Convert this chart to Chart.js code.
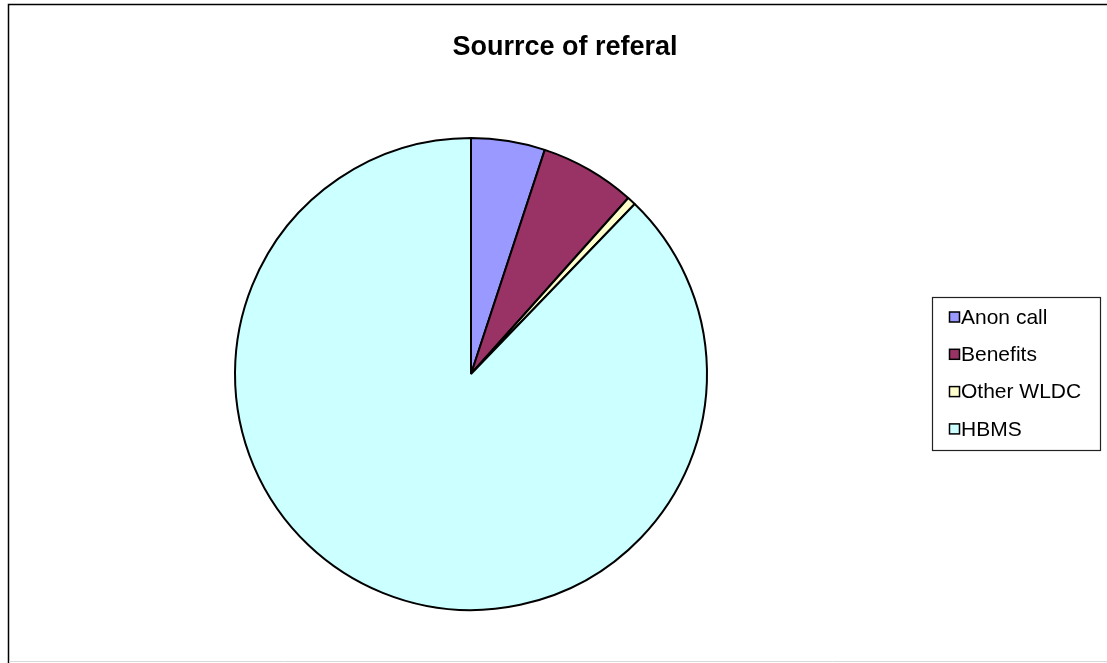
<!DOCTYPE html>
<html>
<head>
<meta charset="utf-8">
<script src="https://cdn.jsdelivr.net/npm/chart.js@4/dist/chart.umd.min.js"></script>
<style>
  html, body { margin: 0; padding: 0; background: #ffffff; }
  #wrap { position: relative; width: 1107px; height: 663px; }
  canvas { display: block; }
</style>
</head>
<body>
<div id="wrap"><canvas id="c" width="1107" height="663"></canvas></div>
<script>
const chartTitle = "Sourrce of referal";
const categories = ["Anon call", "Benefits", "Other WLDC", "HBMS"];
const referralCounts = [17, 22, 2, 295];
const sliceColors = ["#9999FF", "#993366", "#FFFFCC", "#CCFFFF"];

const framePlugin = {
  id: 'frame',
  beforeDraw(chart) {
    const ctx = chart.ctx;
    ctx.save();
    ctx.fillStyle = '#ffffff';
    ctx.fillRect(0, 0, chart.width, chart.height);
    ctx.strokeStyle = '#000000';
    ctx.lineWidth = 1.5;
    ctx.beginPath();
    ctx.moveTo(8.5, chart.height);
    ctx.lineTo(8.5, 4.5);
    ctx.lineTo(chart.width, 4.5);
    ctx.stroke();
    ctx.strokeStyle = '#d8d8d8';
    ctx.lineWidth = 1;
    ctx.beginPath();
    ctx.moveTo(9, 661.5);
    ctx.lineTo(chart.width, 661.5);
    ctx.stroke();
    ctx.restore();
  }
};

const titleLegendPlugin = {
  id: 'titleLegend',
  afterDraw(chart) {
    const ctx = chart.ctx;
    ctx.save();
    ctx.fillStyle = '#000000';
    ctx.font = 'bold 27px "Liberation Sans", Arial, sans-serif';
    ctx.textAlign = 'center';
    ctx.textBaseline = 'alphabetic';
    ctx.fillText(chartTitle, 565, 54.5);

    ctx.strokeStyle = '#222222';
    ctx.lineWidth = 1.2;
    ctx.strokeRect(932.5, 297.5, 168, 153);

    const labels = chart.data.labels;
    const colors = chart.data.datasets[0].backgroundColor;
    ctx.font = '21px "Liberation Sans", Arial, sans-serif';
    ctx.textAlign = 'left';
    ctx.textBaseline = 'middle';
    for (let i = 0; i < labels.length; i++) {
      const cy = 317 + i * 37.3;
      ctx.fillStyle = colors[i];
      ctx.fillRect(949.5, cy - 5, 10, 10);
      ctx.strokeStyle = '#000000';
      ctx.lineWidth = 1.5;
      ctx.strokeRect(949.5, cy - 5, 10, 10);
      ctx.fillStyle = '#000000';
      ctx.fillText(labels[i], 961, cy + 1);
    }
    ctx.restore();
  }
};

new Chart(document.getElementById('c'), {
  type: 'pie',
  data: {
    labels: categories,
    datasets: [{
      data: referralCounts,
      backgroundColor: sliceColors,
      borderColor: '#000000',
      borderWidth: 2,
      borderAlign: 'center'
    }]
  },
  options: {
    responsive: false,
    devicePixelRatio: 1,
    animation: false,
    radius: 236,
    layout: { padding: { left: 235, right: 400, top: 138, bottom: 53 } },
    plugins: {
      legend: { display: false },
      title: { display: false },
      tooltip: { enabled: false }
    }
  },
  plugins: [framePlugin, titleLegendPlugin]
});
</script>
</body>
</html>
